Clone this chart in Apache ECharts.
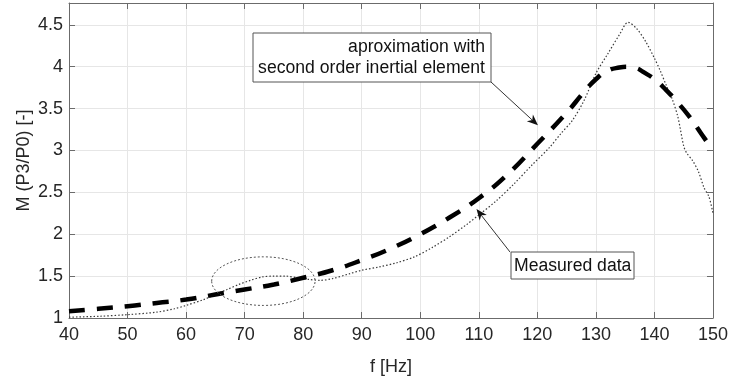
<!DOCTYPE html>
<html>
<head>
<meta charset="utf-8">
<script src="https://cdn.jsdelivr.net/npm/echarts@6/dist/echarts.min.js"></script>
<style>
  html, body { margin: 0; padding: 0; background: #fff; }
  #main { width: 729px; height: 377px; }
</style>
</head>
<body>
<div id="main"></div>
<script>
// measured data (f [Hz], M)
var measuredF = [40, 45, 50, 55, 58, 60, 63, 65, 67, 69, 71, 73, 75, 77, 79, 81, 83, 85, 88, 90,
  93, 96, 99, 102, 105, 108, 110, 113, 116, 119, 122, 124, 126, 128, 130, 132, 134, 135.5,
  137, 138.5, 140, 141, 142, 143, 144, 145, 145.5, 146.5, 147.5, 148.5, 149.3, 150];
var measuredM = [1.01, 1.02, 1.04, 1.07, 1.11, 1.15, 1.22, 1.28, 1.34, 1.40, 1.45, 1.49, 1.50, 1.50, 1.48, 1.46, 1.45, 1.47, 1.53, 1.57,
  1.61, 1.66, 1.73, 1.84, 1.97, 2.12, 2.23, 2.40, 2.60, 2.82, 3.03, 3.20, 3.36, 3.60, 3.92, 4.15, 4.38, 4.53,
  4.45, 4.30, 4.10, 3.95, 3.78, 3.62, 3.40, 3.05, 2.97, 2.88, 2.75, 2.55, 2.45, 2.25];

// approximation with second order inertial element
var approxF = [40, 45, 50, 55, 60, 65, 70, 75, 80, 85, 90, 95, 100, 105, 110, 115, 120, 125,
  128, 130, 132, 134, 135.5, 137, 138, 140, 142, 144, 146, 148, 150];
var approxM = [1.08, 1.11, 1.14, 1.18, 1.22, 1.28, 1.34, 1.40, 1.48, 1.57, 1.69, 1.83, 2.00, 2.20, 2.43, 2.72, 3.08, 3.45,
  3.70, 3.85, 3.95, 3.99, 4.00, 3.98, 3.94, 3.85, 3.72, 3.57, 3.40, 3.20, 3.00];

var approxLabel = 'aproximation with\nsecond order inertial element';
var measuredLabel = 'Measured data';

var font = 'Liberation Sans, Arial, Helvetica, sans-serif';
var fs = 18;
var noteFs = 17.6;
var axisColor = '#6b6b6b';

var chartDom = document.getElementById('main');
var myChart = echarts.init(chartDom);

function pairs(xs, ys) {
  return xs.map(function (x, i) { return [x, ys[i]]; });
}

var option = {
  animation: false,
  grid: { left: 69, right: 16, top: 3, bottom: 59, outerBoundsMode: 'none', containLabel: false },
  xAxis: [
    {
      type: 'value', min: 40, max: 150, interval: 10,
      name: 'f [Hz]', nameLocation: 'middle', nameGap: 40, nameMoveOverlap: false,
      nameTextStyle: { fontFamily: font, fontSize: fs, color: '#262626' },
      axisLine: { show: true, lineStyle: { color: axisColor, width: 1 } },
      axisTick: { show: true, inside: true, length: 6, lineStyle: { color: axisColor } },
      axisLabel: { fontFamily: font, fontSize: fs, color: '#262626', margin: 8 },
      splitLine: { show: true, lineStyle: { color: '#e6e6e6', width: 1 } }
    },
    {
      type: 'value', min: 40, max: 150, interval: 10, position: 'top',
      axisLine: { show: true, lineStyle: { color: axisColor, width: 1 } },
      axisTick: { show: true, inside: true, length: 6, lineStyle: { color: axisColor } },
      axisLabel: { show: false },
      splitLine: { show: false }
    }
  ],
  yAxis: [
    {
      type: 'value', min: 1, max: 4.76, interval: 0.5,
      name: 'M (P3/P0) [-]', nameLocation: 'middle', nameGap: 36, nameMoveOverlap: false,
      nameTextStyle: { fontFamily: font, fontSize: fs, color: '#262626' },
      axisLine: { show: true, lineStyle: { color: axisColor, width: 1 } },
      axisTick: { show: true, inside: true, length: 6, lineStyle: { color: axisColor } },
      axisLabel: {
        fontFamily: font, fontSize: fs, color: '#262626', margin: 6,
        formatter: function (v) {
          return Math.abs(v * 2 - Math.round(v * 2)) < 1e-6 ? String(v) : '';
        }
      },
      splitLine: { show: true, lineStyle: { color: '#e6e6e6', width: 1 } }
    },
    {
      type: 'value', min: 1, max: 4.76, interval: 0.5, position: 'right',
      axisLine: { show: true, lineStyle: { color: axisColor, width: 1 } },
      axisTick: { show: true, inside: true, length: 6, lineStyle: { color: axisColor } },
      axisLabel: { show: false },
      splitLine: { show: false }
    }
  ],
  series: [
    {
      name: 'Measured data',
      type: 'line',
      data: pairs(measuredF, measuredM),
      showSymbol: false,
      smooth: 0.3,
      lineStyle: { color: '#3a3a3a', width: 1.2, type: [1.5, 2] },
      z: 3
    },
    {
      name: 'approximation',
      type: 'line',
      data: pairs(approxF, approxM),
      showSymbol: false,
      smooth: true,
      lineStyle: { color: '#000', width: 4.5, type: [16, 12], cap: 'butt' },
      z: 4
    }
  ]
};

myChart.setOption(option);

// annotations: ellipse around the dip and two labelled arrows
function px(p) { return myChart.convertToPixel({ xAxisIndex: 0, yAxisIndex: 0 }, p); }

function arrow(from, to) {
  var dx = to[0] - from[0], dy = to[1] - from[1];
  var len = Math.sqrt(dx * dx + dy * dy);
  var ux = dx / len, uy = dy / len;
  var hl = 11, hw = 4.5;
  var bx = to[0] - ux * hl, by = to[1] - uy * hl;
  var nx = -uy, ny = ux;
  var back = [to[0] - ux * (hl * 0.7), to[1] - uy * (hl * 0.7)];
  return [
    { type: 'line', shape: { x1: from[0], y1: from[1], x2: back[0], y2: back[1] },
      style: { stroke: '#333', lineWidth: 1 }, z: 10 },
    { type: 'polygon', shape: { points: [to, [bx + nx * hw, by + ny * hw], back, [bx - nx * hw, by - ny * hw]] },
      style: { fill: '#111' }, z: 10 }
  ];
}

var c = px([73.2, 1.44]);
var ex = px([73.2 + 8.83, 1.44]);
var ey = px([73.2, 1.44 + 0.29]);

var tipA = px([120.1, 3.3]);
var tipM = px([109.6, 2.3]);

var elements = [
  { type: 'ellipse', shape: { cx: c[0], cy: c[1], rx: ex[0] - c[0], ry: c[1] - ey[1] },
    style: { fill: 'none', stroke: '#555', lineWidth: 1, lineDash: [2, 2] }, z: 10 },
  { type: 'rect', shape: { x: 253, y: 33, width: 238, height: 49 },
    style: { fill: '#fff', stroke: '#555', lineWidth: 1 }, z: 11 },
  { type: 'text', x: 485, y: 58, z: 12,
    style: { text: approxLabel, font: noteFs + 'px ' + font, fill: '#111', align: 'right', verticalAlign: 'middle', lineHeight: 21 } },
  { type: 'rect', shape: { x: 511, y: 252, width: 123, height: 27 },
    style: { fill: '#fff', stroke: '#555', lineWidth: 1 }, z: 11 },
  { type: 'text', x: 514, y: 266, z: 12,
    style: { text: measuredLabel, font: noteFs + 'px ' + font, fill: '#111', align: 'left', verticalAlign: 'middle' } }
].concat(arrow([491, 82], tipA)).concat(arrow([510, 252], tipM));

myChart.setOption({ graphic: elements });
</script>
</body>
</html>
